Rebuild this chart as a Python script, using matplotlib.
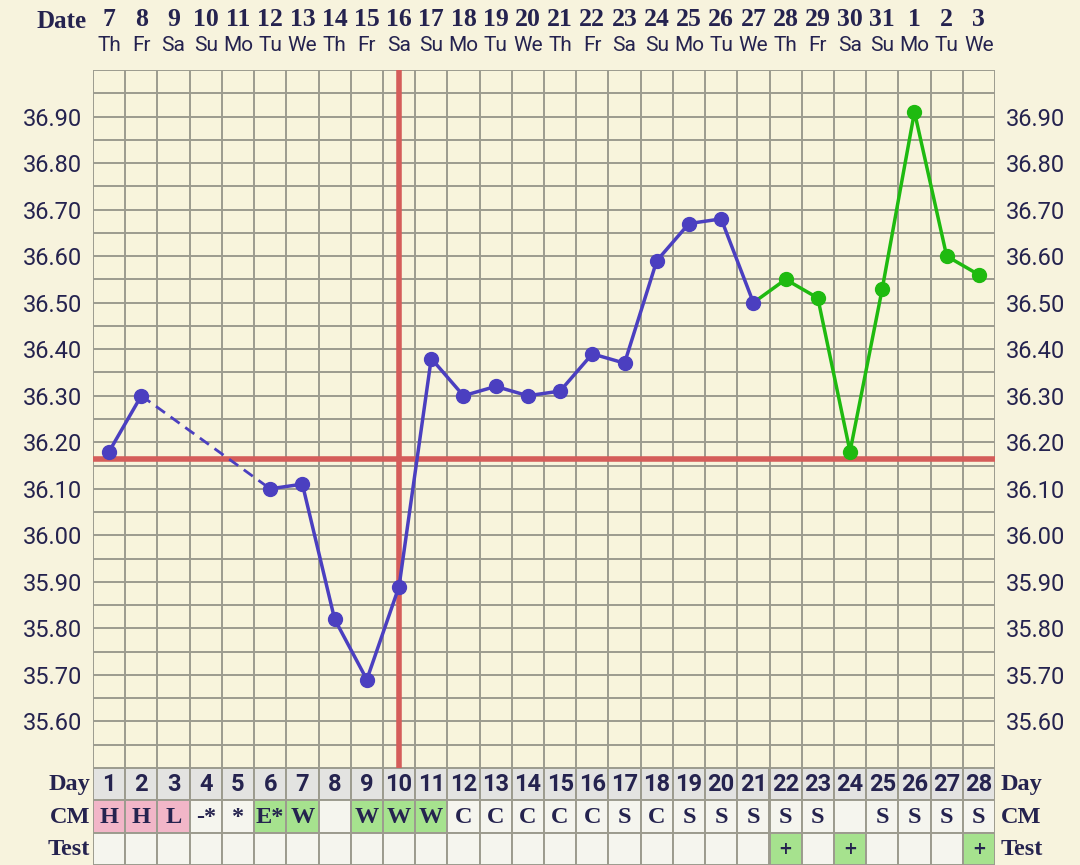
import matplotlib
matplotlib.use("Agg")
import matplotlib.pyplot as plt
import numpy as np

# ---------------- data ----------------
dates = ["7", "8", "9", "10", "11", "12", "13", "14", "15", "16", "17", "18", "19", "20",
         "21", "22", "23", "24", "25", "26", "27", "28", "29", "30", "31", "1", "2", "3"]
weekdays = ["Th", "Fr", "Sa", "Su", "Mo", "Tu", "We", "Th", "Fr", "Sa", "Su", "Mo", "Tu", "We",
            "Th", "Fr", "Sa", "Su", "Mo", "Tu", "We", "Th", "Fr", "Sa", "Su", "Mo", "Tu", "We"]
days = list(range(1, 29))
# temperatures for cycle days 1..28 (None = not recorded)
temps = [36.18, 36.30, None, None, None, 36.10, 36.11, 35.82, 35.69, 35.89,
         36.38, 36.30, 36.32, 36.30, 36.31, 36.39, 36.37, 36.59, 36.67, 36.68,
         36.50, 36.55, 36.51, 36.18, 36.53, 36.91, 36.60, 36.56]
first_green_day = 22          # days from here on are drawn green
coverline = 36.165
ovulation_day = 10
cm = ["H", "H", "L", "-*", "*", "E*", "W", "", "W", "W", "W", "C", "C", "C",
      "C", "C", "S", "C", "S", "S", "S", "S", "S", "", "S", "S", "S", "S"]
cm_kind = ["pink", "pink", "pink", "none", "none", "green", "green", "none", "green", "green", "green",
           "none", "none", "none", "none", "none", "none", "none", "none", "none", "none",
           "none", "none", "none", "none", "none", "none", "none"]
test = ["", "", "", "", "", "", "", "", "", "", "", "", "", "", "", "", "", "", "", "", "",
        "+", "", "+", "", "", "", "+"]
yticks = [35.60, 35.70, 35.80, 35.90, 36.00, 36.10, 36.20, 36.30, 36.40, 36.50,
          36.60, 36.70, 36.80, 36.90]

# ---------------- style ----------------
BG = "#f7f3dd"
PLOT_BG = "#f8f4dc"
GRID = "#9c9b8e"
NAVY = "#25234f"
BLUE = "#4b3fc0"
GREEN = "#1fba10"
RED = "#d55d5a"
PINK = "#f2b6c8"
LGREEN = "#a6e28e"
CELL = "#f5f5ee"
DAYBG = "#e3e3e1"
SLAB = dict(family="Liberation Serif", fontweight="bold")

W, H = 1080, 865
fig = plt.figure(figsize=(W / 100, H / 100), dpi=100, facecolor=BG)

L, R, T, B = 93, 995, 70, 768
ax = fig.add_axes([L / W, 1 - B / H, (R - L) / W, (B - T) / H])
ax.set_facecolor(PLOT_BG)
ax.set_xlim(0.5, 28.5)
ax.set_ylim(35.50, 37.00)

# grid
for x in np.arange(0.5, 28.6, 1.0):
    ax.axvline(x, color=GRID, lw=1.4, zorder=1)
for y in np.arange(35.50, 37.001, 0.05):
    ax.axhline(y, color=GRID, lw=1.4, zorder=1)
for s in ax.spines.values():
    s.set_visible(False)

# coverline and ovulation line
ax.axhline(coverline, color=RED, lw=4, zorder=2)
ax.axvline(ovulation_day, color=RED, lw=4, zorder=2)

# temperature line
xs = np.array(days, dtype=float)
ys = np.array([np.nan if t is None else t for t in temps])
blue_mask = xs < first_green_day
bx, by = xs[blue_mask], ys[blue_mask]
ax.plot(bx, by, color=BLUE, lw=2.5, zorder=3)
valid = ~np.isnan(by)
vx, vy = bx[valid], by[valid]
for i in range(len(vx) - 1):
    if vx[i + 1] - vx[i] > 1:
        ax.plot(vx[i:i + 2], vy[i:i + 2], color=BLUE, lw=2, ls=(0, (4, 2.5)), zorder=3)
ax.plot(vx, vy, "o", color=BLUE, ms=10, zorder=4)
gi = first_green_day - 2
gx, gy = xs[gi:], ys[gi:]
ax.plot(gx, gy, color=GREEN, lw=2.5, zorder=3)
ax.plot(gx[1:], gy[1:], "o", color=GREEN, ms=10, zorder=4)

# ticks
ax.set_xticks([])
ax.set_yticks(yticks)
ax.set_yticklabels([f"{t:.2f}" for t in yticks])
ax.tick_params(axis="y", length=0, labelsize=17, labelcolor=NAVY, pad=8,
               left=True, right=True, labelleft=True, labelright=True)
for lab in ax.get_yticklabels():
    lab.set_fontfamily("Roboto")
    lab.set_fontweight("normal")

# header
for d, dt, wd in zip(days, dates, weekdays):
    ax.text(d, 37.00 + 50 / 465, dt, ha="center", va="center", fontsize=18.5,
            color=NAVY, clip_on=False, **SLAB)
    ax.text(d, 37.00 + 24 / 465, wd, ha="center", va="center", fontsize=15,
            color=NAVY, family="Roboto", clip_on=False)
fig.text(62 / W, 1 - 21 / H, "Date", ha="center", va="center", fontsize=18,
         color=NAVY, **SLAB)

# ---------------- table ----------------
tax = fig.add_axes([L / W, 0, (R - L) / W, (H - B) / H])
tax.set_xlim(0.5, 28.5)
tax.set_ylim(0, 3)
tax.axis("off")

day_colors = [DAYBG] * 28
cm_colors = [{"pink": PINK, "green": LGREEN, "none": CELL}[k] for k in cm_kind]
test_colors = [LGREEN if t else CELL for t in test]
tax.bar(days, [1] * 28, bottom=2, width=1.0, color=day_colors, edgecolor=GRID, lw=1.4)
tax.bar(days, [1] * 28, bottom=1, width=1.0, color=cm_colors, edgecolor=GRID, lw=1.4)
tax.bar(days, [1] * 28, bottom=0, width=1.0, color=test_colors, edgecolor=GRID, lw=1.4)

for d in days:
    tax.text(d, 2.5, str(d), ha="center", va="center", fontsize=17, fontweight="bold",
             color=NAVY, family="Roboto")
    if cm[d - 1]:
        tax.text(d, 1.47, cm[d - 1], ha="center", va="center", fontsize=17.5,
                 color=NAVY, **SLAB)
    if test[d - 1]:
        tax.text(d, 0.5, test[d - 1], ha="center", va="center", fontsize=12, fontweight="bold",
                 color=NAVY, family="DejaVu Sans")

for row, name in zip([2.5, 1.47, 0.47], ["Day", "CM", "Test"]):
    tax.text(0.42, row, name, ha="right", va="center", fontsize=17.5,
             color=NAVY, **SLAB)
    tax.text(28.67, row, name, ha="left", va="center", fontsize=17.5,
             color=NAVY, **SLAB)

fig.savefig("out.png", dpi=100, facecolor=BG)
